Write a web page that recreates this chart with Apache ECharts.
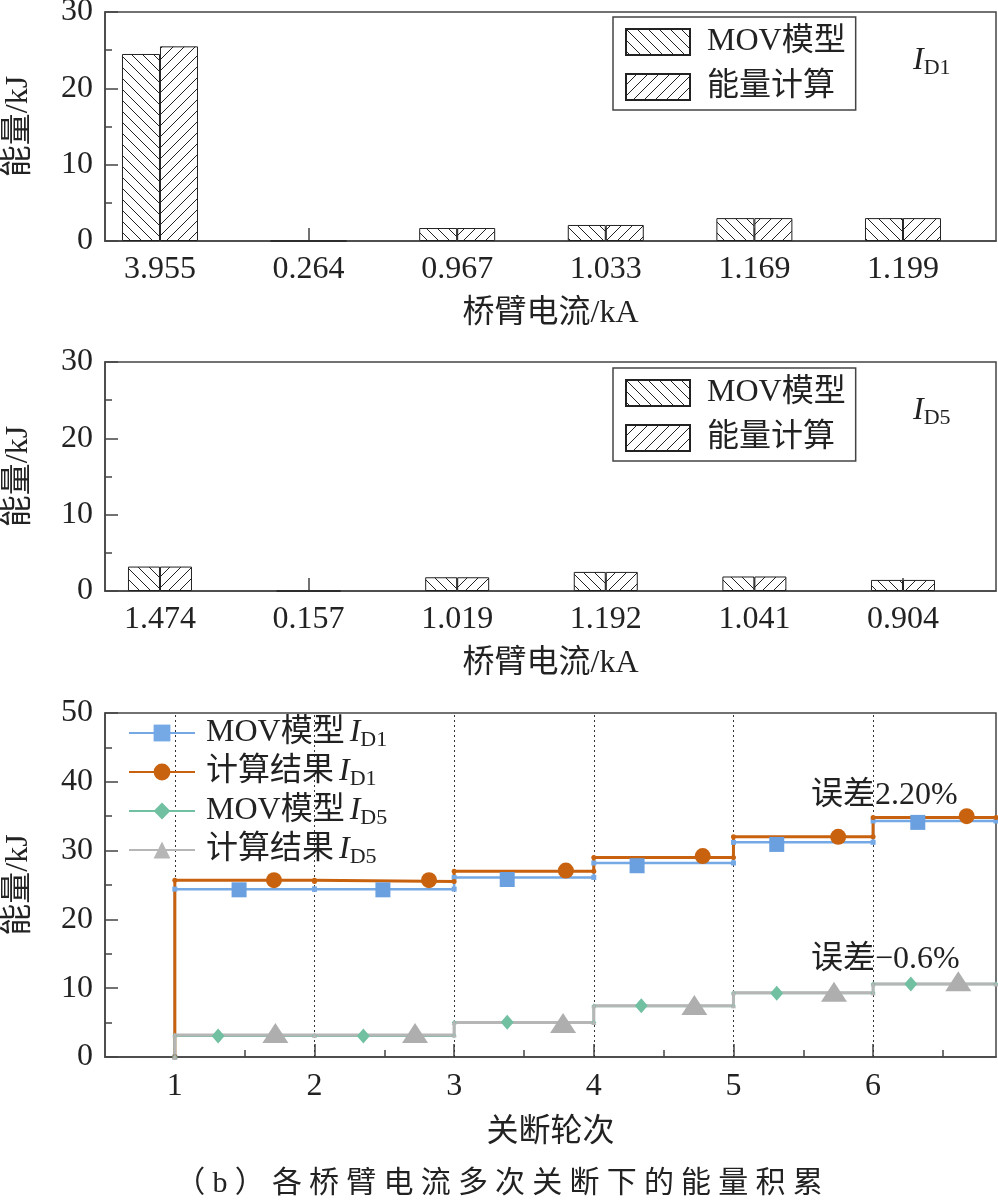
<!DOCTYPE html>
<html>
<head>
<meta charset="utf-8">
<script src="https://cdn.jsdelivr.net/npm/echarts@6/dist/echarts.min.js"></script>
<style>
  html, body { margin: 0; padding: 0; background: #fff; }
  #chart { width: 998px; height: 1201px; }
</style>
</head>
<body>
<div id="chart"></div>
<script>
(function() {
    // --- data: bar charts (energy per bridge-arm current) ---
    var topLabels = ['3.955', '0.264', '0.967', '1.033', '1.169', '1.199'];
    var topMov = [24.5, 0, 1.7, 2.1, 3.0, 3.0];
    var topCalc = [25.5, 0, 1.7, 2.1, 3.0, 3.0];

    var midLabels = ['1.474', '0.157', '1.019', '1.192', '1.041', '0.904'];
    var midMov = [3.2, 0, 1.8, 2.5, 1.9, 1.45];
    var midCalc = [3.2, 0, 1.8, 2.5, 1.9, 1.45];

    // --- data: accumulated energy over breaking rounds ---
    var rounds = [1, 2, 3, 4, 5, 6];
    var roundEnd = 6.88;
    var movD1Level = [24.4, 24.4, 26.1, 28.2, 31.2, 34.3];
    var calcD1Level = [25.7, 25.5, 27.0, 29.0, 32.0, 34.8];
    var movD5Level = [3.1, 3.1, 5.0, 7.4, 9.3, 10.6];
    var calcD5Level = [3.2, 3.2, 5.0, 7.45, 9.35, 10.6];

    var movD1MarkX = [1.46, 2.49, 3.38, 4.31, 5.31, 6.32];
    var movD1MarkY = [24.3, 24.3, 25.8, 27.8, 30.9, 34.1];
    var calcD1MarkX = [1.71, 2.82, 3.80, 4.78, 5.75, 6.67];
    var calcD1MarkY = [25.7, 25.7, 27.1, 29.2, 32.0, 35.0];
    var movD5MarkX = [1.31, 2.35, 3.38, 4.34, 5.31, 6.27];
    var movD5MarkY = [3.05, 3.05, 5.05, 7.45, 9.25, 10.6];
    var calcD5MarkX = [1.72, 2.72, 3.78, 4.72, 5.72, 6.61];
    var calcD5MarkY = [3.5, 3.5, 4.95, 7.55, 9.5, 11.0];

    var barTicks = [1, 2, 3, 4, 5, 6];
    var minorRoundTicks = [1.5, 2.5, 3.5, 4.5, 5.5, 6.5];

    var FONT = "'Liberation Serif', 'Noto Sans CJK SC', serif";
    var ink = '#222';
    var frame = '#444';
    var blue = '#74a9e6', orange = '#c8620e', green = '#72c0a2', gray = '#b6b6b6';

    // hatch pattern tiles
    function hatch(dir) {
        var s = 11;
        var c = document.createElement('canvas');
        c.width = s; c.height = s;
        var g = c.getContext('2d');
        g.fillStyle = '#fff';
        g.fillRect(0, 0, s, s);
        g.strokeStyle = '#222';
        g.lineWidth = 1;
        g.beginPath();
        if (dir === 'back') {
            g.moveTo(-1, -1); g.lineTo(s + 1, s + 1);
            g.moveTo(-1, s - 1); g.lineTo(1, s + 1);
            g.moveTo(s - 1, -1); g.lineTo(s + 1, 1);
        } else {
            g.moveTo(-1, s + 1); g.lineTo(s + 1, -1);
            g.moveTo(-1, 1); g.lineTo(1, -1);
            g.moveTo(s - 1, s + 1); g.lineTo(s + 1, s - 1);
        }
        g.stroke();
        return { image: c, repeat: 'repeat' };
    }
    var patBack = hatch('back');
    var patFwd = hatch('fwd');

    function pairs(xs, ys) {
        return xs.map(function(x, i) { return [x, ys[i]]; });
    }
    function stepPoints(levels) {
        var pts = [[rounds[0], 0]];
        levels.forEach(function(v, i) {
            pts.push([rounds[i], v]);
            pts.push([i + 1 < rounds.length ? rounds[i + 1] : roundEnd, v]);
        });
        return pts;
    }

    var subRich = {
        n: { fontSize: 32, fontFamily: FONT, fontWeight: 'normal', color: ink, lineHeight: 36, padding: [0, 5, 0, 6] },
        i: { fontSize: 32, fontFamily: "'Liberation Serif'", fontWeight: 'normal', fontStyle: 'italic', color: ink, lineHeight: 36 },
        s: { fontSize: 22, fontFamily: "'Liberation Serif'", fontWeight: 'normal', color: ink, lineHeight: 22, verticalAlign: 'bottom' },
        t: { fontSize: 32, fontFamily: FONT, fontWeight: 'normal', color: ink, lineHeight: 36, padding: [0, 0, 0, 12] },
        c: { fontSize: 30, fontFamily: FONT, fontWeight: 'normal', color: ink, padding: [0, 3.6] },
        e: { fontSize: 32, fontFamily: FONT, fontWeight: 'normal', color: ink }
    };
    var lineLegendText = {
        'MOV模型 ID1': '{n|MOV模型}{i|I}{s|D1}',
        '计算结果 ID1': '{n|计算结果}{i|I}{s|D1}',
        'MOV模型 ID5': '{n|MOV模型}{i|I}{s|D5}',
        '计算结果 ID5': '{n|计算结果}{i|I}{s|D5}'
    };
    var caption = '（b）各桥臂电流多次关断下的能量积累';

    function barXAxis(grid, labels) {
        return {
            gridIndex: grid, type: 'value', min: 0.63, max: 6.626,
            name: '桥臂电流/kA', nameLocation: 'middle', nameGap: 57,
            nameTextStyle: { fontSize: 32, fontFamily: FONT, color: ink },
            axisLine: { lineStyle: { color: frame, width: 1.5 } },
            axisTick: { inside: true, length: 13, customValues: barTicks, lineStyle: { color: frame, width: 1.5 } },
            axisLabel: {
                customValues: barTicks, margin: 13, fontSize: 32, fontFamily: FONT, color: ink,
                formatter: function(v) { return labels[Math.round(v) - 1]; }
            },
            splitLine: { show: false }
        };
    }
    function yAxis(grid, max) {
        return {
            gridIndex: grid, type: 'value', min: 0, max: max, interval: 10,
            name: '能量/kJ', nameLocation: 'middle', nameGap: 70, nameRotate: 90,
            nameTextStyle: { fontSize: 32, fontFamily: FONT, color: ink },
            axisLine: { show: true, lineStyle: { color: frame, width: 1.5 } },
            axisTick: { inside: true, length: 13, lineStyle: { color: frame, width: 1.5 } },
            minorTick: { show: true, splitNumber: 2, length: 7, lineStyle: { color: frame, width: 1.5 } },
            axisLabel: { margin: 12, fontSize: 32, fontFamily: FONT, color: ink },
            splitLine: { show: false }
        };
    }
    function barLegend(top) {
        return {
            data: ['MOV模型', '能量计算'], orient: 'vertical', left: 613, top: top,
            icon: 'rect', itemWidth: 64, itemHeight: 26, itemGap: 13,
            padding: [9, 10, 7, 12], borderColor: frame, borderWidth: 1.5,
            textStyle: { rich: subRich },
            formatter: function(name) { return '{t|' + name + '}'; },
            selectedMode: false
        };
    }
    function barSeries(name, x, values, pat, width) {
        return {
            type: 'bar', name: name, xAxisIndex: x, yAxisIndex: x,
            data: pairs(barTicks, values), barWidth: width, barGap: '0%',
            itemStyle: { color: pat, borderColor: '#222', borderWidth: 1 }
        };
    }
    function stepSeries(name, levels, color, symbol, width) {
        return {
            type: 'line', name: name, xAxisIndex: 2, yAxisIndex: 2,
            data: stepPoints(levels), symbol: symbol, symbolSize: 5, showSymbol: true,
            itemStyle: { color: color }, lineStyle: { color: color, width: width }, z: 2
        };
    }
    function markSeries(name, xs, ys, color, symbol, size) {
        return {
            type: 'scatter', name: name, xAxisIndex: 2, yAxisIndex: 2,
            data: pairs(xs, ys), symbol: symbol, symbolSize: size,
            itemStyle: { color: color, opacity: 1 }, z: 3
        };
    }

    var chart = echarts.init(document.getElementById('chart'), null, { renderer: 'canvas' });

    var gridBase = {
        left: 105, width: 891, show: true, borderColor: frame, borderWidth: 1.5,
        containLabel: false, outerBoundsMode: 'none'
    };
    var option = {
        animation: false,
        backgroundColor: '#fff',
        grid: [
            Object.assign({ top: 12, height: 229 }, gridBase),
            Object.assign({ top: 362, height: 229 }, gridBase),
            Object.assign({ top: 713, height: 344 }, gridBase)
        ],
        title: [
            { text: '{i|I}{s|D1}', left: 908, top: 38, textStyle: { rich: subRich } },
            { text: '{i|I}{s|D5}', left: 908, top: 388, textStyle: { rich: subRich } },
            { text: '{e|误差2.20%}', left: 806, top: 775, textStyle: { rich: subRich } },
            { text: '{e|误差−0.6%}', left: 806, top: 939, textStyle: { rich: subRich } },
            {
                text: caption.split('').map(function(ch) { return '{c|' + ch + '}'; }).join(''),
                left: 'center', top: 1164, textStyle: { rich: subRich }
            }
        ],
        legend: [
            barLegend(17),
            barLegend(368),
            {
                data: Object.keys(lineLegendText), orient: 'vertical', left: 128, top: 717,
                itemWidth: 66, itemHeight: 21, itemGap: 5, padding: 0,
                textStyle: { rich: subRich },
                formatter: function(name) { return lineLegendText[name]; },
                selectedMode: false
            }
        ],
        xAxis: [
            barXAxis(0, topLabels),
            barXAxis(1, midLabels),
            {
                gridIndex: 2, type: 'value', min: 0.5, max: roundEnd, position: 'bottom',
                name: '关断轮次', nameLocation: 'middle', nameGap: 60,
                nameTextStyle: { fontSize: 32, fontFamily: FONT, color: ink },
                axisLine: { lineStyle: { color: frame, width: 1.5 } },
                axisTick: { inside: true, length: 13, customValues: rounds, lineStyle: { color: frame, width: 1.5 } },
                axisLabel: { customValues: rounds, margin: 14, fontSize: 32, fontFamily: FONT, color: ink },
                splitLine: { show: false }
            },
            {
                gridIndex: 2, type: 'value', min: 0.5, max: roundEnd, position: 'bottom',
                axisLine: { show: false },
                axisTick: { inside: true, length: 7, customValues: minorRoundTicks, lineStyle: { color: frame, width: 1.5 } },
                axisLabel: { show: false },
                splitLine: { show: false }
            }
        ],
        yAxis: [yAxis(0, 30), yAxis(1, 30), yAxis(2, 50)],
        series: [
            barSeries('MOV模型', 0, topMov, patBack, 38),
            barSeries('能量计算', 0, topCalc, patFwd, 38),
            barSeries('MOV模型', 1, midMov, patBack, 32),
            barSeries('能量计算', 1, midCalc, patFwd, 32),

            Object.assign(stepSeries('MOV模型 ID1', movD1Level, blue, 'rect', 2.5), {
                markLine: {
                    symbol: 'none', silent: true, z: 1, label: { show: false },
                    lineStyle: { type: [2, 3], color: '#333', width: 1 },
                    data: rounds.map(function(r) { return { xAxis: r }; })
                }
            }),
            stepSeries('计算结果 ID1', calcD1Level, orange, 'circle', 3),
            stepSeries('MOV模型 ID5', movD5Level, green, 'diamond', 2.5),
            stepSeries('计算结果 ID5', calcD5Level, gray, 'triangle', 3),

            markSeries('MOV模型 ID1', movD1MarkX, movD1MarkY, '#6a9fe0', 'rect', 15),
            markSeries('计算结果 ID1', calcD1MarkX, calcD1MarkY, orange, 'circle', 16),
            markSeries('MOV模型 ID5', movD5MarkX, movD5MarkY, green, 'diamond', [13, 15]),
            markSeries('计算结果 ID5', calcD5MarkX, calcD5MarkY, '#aeaeae', 'triangle', [26, 20])
        ]
    };

    chart.setOption(option);
    window.addEventListener('resize', function() { chart.resize(); });
})();
</script>
</body>
</html>
